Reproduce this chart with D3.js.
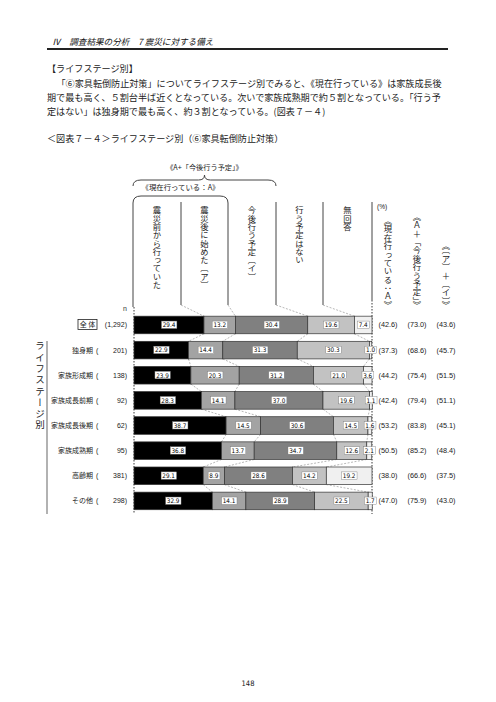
<!DOCTYPE html>
<html><head><meta charset="utf-8">
<script src="https://cdn.jsdelivr.net/npm/d3@7"></script>
<style>
html,body{margin:0;padding:0;background:#fff;}
svg{display:block;}
</style></head>
<body>
<svg id="c" width="496" height="702"></svg>
<script>
const categories = ["全 体","独身期","家族形成期","家族成長前期","家族成長後期","家族成熟期","高齢期","その他"];
const nValues = ["1,292","201","138","92","62","95","381","298"];
const seriesNames = ["震災前から行っていた","震災後に始めた〔ア〕","今後行う予定〔イ〕","行う予定はない","無回答"];
const beforeQuake = [29.4,22.9,23.9,28.3,38.7,36.8,29.1,32.9];
const afterQuake  = [13.2,14.4,20.3,14.1,14.5,13.7,8.9,14.1];
const planned     = [30.4,31.3,31.2,37.0,30.6,34.7,28.6,28.9];
const notPlanned  = [19.6,30.3,21.0,19.6,14.5,12.6,14.2,22.5];
const noAnswer    = [7.4,1.0,3.6,1.1,1.6,2.1,19.2,1.7];
const sumA        = ["42.6","37.3","44.2","42.4","53.2","50.5","38.0","47.0"];
const sumAplan    = ["73.0","68.6","75.4","79.4","83.8","85.2","66.6","75.9"];
const sumAI       = ["43.6","45.7","51.5","51.1","45.1","48.4","37.5","43.0"];
const sumHeaders  = ["《現在行っている：Ａ》","《Ａ＋「今後行う予定」》","《〔ア〕＋〔イ〕》"];

const series = [beforeQuake, afterQuake, planned, notPlanned, noAnswer];
const colors = ["#000000","#a3a3a3","#808080","#c2c2c2","#f0f0f0"];
const JP = "'Noto Sans CJK JP','Noto Sans',sans-serif";

const svg = d3.select("#c");
const x = d3.scaleLinear().domain([0,100]).range([134,372]);
const y = d3.scaleBand().domain(categories).range([312.4,513.5]).paddingInner(0.3).paddingOuter(0.15);
const bh = y.bandwidth();

// ---- page header ----
svg.append("text").attr("x",52).attr("y",45).attr("font-family",JP).attr("font-size",8.6)
  .attr("font-style","italic").attr("fill","#111")
  .text("Ⅳ　調査結果の分析　7 震災に対する備え");
svg.append("line").attr("x1",47).attr("x2",448).attr("y1",49).attr("y2",49)
  .attr("stroke","#222").attr("stroke-width",1.8);

const para = [
  {t:"【ライフステージ別】", x:47, y:72},
  {t:"「⑥家具転倒防止対策」についてライフステージ別でみると、《現在行っている》は家族成長後", x:56.5, y:87},
  {t:"期で最も高く、５割台半ば近くとなっている。次いで家族成熟期で約５割となっている。「行う予", x:47, y:101},
  {t:"定はない」は独身期で最も高く、約３割となっている。(図表７－４)", x:47, y:115},
  {t:"＜図表７－４＞ライフステージ別（⑥家具転倒防止対策）", x:47, y:142}
];
svg.selectAll("text.para").data(para).join("text").attr("class","para")
  .attr("x",d=>d.x).attr("y",d=>d.y).attr("font-family",JP).attr("font-size",9.1)
  .attr("fill","#222").text(d=>d.t);

// ---- column headers ----
const cols = [133,181,228,276,323,372];
const gH = svg.append("g").attr("stroke","#444").attr("stroke-width",1).attr("fill","none");
// bracket A (cols 1-2)
gH.append("path").attr("d",`M${cols[0]},307 L${cols[0]},203 Q${cols[0]},196 ${cols[0]+8},196 L${cols[2]-8},196 Q${cols[2]},196 ${cols[2]},203 L${cols[2]},305`);
[1,3,4].forEach(i=>gH.append("line").attr("x1",cols[i]).attr("x2",cols[i]).attr("y1",202).attr("y2",305));
gH.append("line").attr("x1",cols[5]).attr("x2",cols[5]).attr("y1",202).attr("y2",300);
// curly brace
const mid = (cols[0]+cols[3])/2;
gH.append("path").attr("d",`M${cols[0]},186 Q${cols[0]},180 ${cols[0]+8},180 L${mid-6},180 Q${mid},180 ${mid},175 Q${mid},180 ${mid+6},180 L${cols[3]-8},180 Q${cols[3]},180 ${cols[3]},186`);

svg.append("text").attr("x",mid).attr("y",170).attr("text-anchor","middle")
  .attr("font-family",JP).attr("font-size",7.2).attr("fill","#222").text("《A+「今後行う予定」》");
svg.append("text").attr("x",(cols[0]+cols[2])/2).attr("y",190).attr("text-anchor","middle")
  .attr("font-family",JP).attr("font-size",7.4).attr("fill","#222").text("《現在行っている：A》");

svg.selectAll("text.colh").data(seriesNames).join("text").attr("class","colh")
  .attr("x",(d,i)=>(cols[i]+cols[i+1])/2).attr("y",206)
  .attr("font-family",JP).attr("font-size",8.3).attr("fill","#222")
  .style("writing-mode","vertical-rl").style("glyph-orientation-vertical","0")
  .text(d=>d);

svg.append("text").attr("x",377).attr("y",209).attr("font-family","'Liberation Sans',sans-serif")
  .attr("font-size",6.5).attr("fill","#222").text("(%)");
const sumX = [388,417,446];
svg.selectAll("text.sumh").data(sumHeaders).join("text").attr("class","sumh")
  .attr("x",(d,i)=>sumX[i]).attr("y",309).attr("text-anchor","end")
  .attr("font-family",JP).attr("font-size",8.4).attr("fill","#222")
  .style("writing-mode","vertical-rl").text(d=>d);

svg.append("text").attr("x",123).attr("y",311).attr("font-family","'Liberation Sans',sans-serif")
  .attr("font-size",7).attr("fill","#333").text("n");

// ---- bars ----
const rows = categories.map((c,i)=>{
  let acc=0;
  const segs = series.map((s,k)=>{const v=s[i]; const d={k,v,x0:acc,x1:acc+v}; acc+=v; return d;});
  return {c,i,segs};
});

// dashed connectors
const conn = svg.append("g").attr("stroke","#9a9a9a").attr("stroke-width",0.7).attr("stroke-dasharray","2,1.5").attr("fill","none");
[1,2,3,4].forEach(k=>{
  conn.append("line").attr("x1",cols[k]).attr("y1",305).attr("x2",x(rows[0].segs[k-1].x1)).attr("y2",y(categories[0]));
});
for(let i=0;i<rows.length-1;i++){
  [0,1,2,3].forEach(k=>{
    conn.append("line").attr("x1",x(rows[i].segs[k].x1)).attr("y1",y(categories[i])+bh)
      .attr("x2",x(rows[i+1].segs[k].x1)).attr("y2",y(categories[i+1]));
  });
}
// edge dashed lines
const edge = svg.append("g").attr("stroke","#222").attr("stroke-width",0.9).attr("stroke-dasharray","1.5,1.5");
edge.append("line").attr("x1",x(0)).attr("x2",x(0)).attr("y1",307).attr("y2",514);
edge.append("line").attr("x1",x(100)).attr("x2",x(100)).attr("y1",300).attr("y2",514);

const gRows = svg.selectAll("g.row").data(rows).join("g").attr("class","row")
  .attr("transform",d=>`translate(0,${y(d.c)})`);
gRows.selectAll("rect.seg").data(d=>d.segs).join("rect").attr("class","seg")
  .attr("x",d=>x(d.x0)).attr("width",d=>x(d.x1)-x(d.x0)).attr("y",0).attr("height",bh)
  .attr("fill",d=>colors[d.k]).attr("stroke","#333").attr("stroke-width",0.7);

// value labels
gRows.each(function(r){
  const g = d3.select(this);
  r.segs.forEach(s=>{
    const cx = (x(s.x0)+x(s.x1))/2;
    const t = g.append("text").attr("x",cx).attr("y",bh/2+2.3).attr("text-anchor","middle")
      .attr("font-family","'DejaVu Sans Condensed','Liberation Sans Narrow',sans-serif")
      .attr("font-size",6.3).attr("fill","#000").text(s.v.toFixed(1));
    const bb = t.node().getBBox();
    g.insert("rect","text").attr("x",bb.x-1.2).attr("y",bb.y-0.2).attr("width",bb.width+2.4).attr("height",bb.height+0.4)
      .attr("fill","#fff").attr("stroke","#777").attr("stroke-width",0.4);
  });
});

// category labels
const lab = svg.append("g").attr("font-size",7).attr("fill","#222");
rows.forEach((r,i)=>{
  const cy = y(r.c)+bh/2+2.5;
  if(i===0){
    lab.append("rect").attr("x",78).attr("y",cy-8).attr("width",19).attr("height",10)
      .attr("fill","none").attr("stroke","#222").attr("stroke-width",0.8);
    lab.append("text").attr("x",87.5).attr("y",cy).attr("text-anchor","middle").attr("font-family",JP).text(r.c);
    lab.append("text").attr("x",127).attr("y",cy).attr("text-anchor","end").attr("font-family","'Liberation Sans',sans-serif").text(`(${nValues[i]})`);
  } else {
    lab.append("text").attr("x",93).attr("y",cy).attr("text-anchor","end").attr("font-family",JP).text(r.c);
    lab.append("text").attr("x",96).attr("y",cy).attr("font-family","'Liberation Sans',sans-serif").text("(");
    lab.append("text").attr("x",127).attr("y",cy).attr("text-anchor","end").attr("font-family","'Liberation Sans',sans-serif").text(`${nValues[i]})`);
  }
  [sumA,sumAplan,sumAI].forEach((arr,j)=>{
    lab.append("text").attr("x",sumX[j]).attr("y",cy).attr("text-anchor","middle")
      .attr("font-family","'Liberation Sans',sans-serif").attr("font-size",7.3).text(`(${arr[i]})`);
  });
});

// group label
svg.append("line").attr("x1",47).attr("x2",47).attr("y1",341).attr("y2",514).attr("stroke","#999").attr("stroke-width",1.5);
svg.append("text").attr("x",40).attr("y",341).attr("font-family",JP).attr("font-size",9.5)
  .attr("letter-spacing",1.8).attr("fill","#222").style("writing-mode","vertical-rl").text("ライフステージ別");

// page number
svg.append("text").attr("x",248).attr("y",686).attr("text-anchor","middle")
  .attr("font-family","'DejaVu Sans Condensed',sans-serif").attr("font-size",7.5).attr("fill","#222").text("148");
</script>
</body></html>
